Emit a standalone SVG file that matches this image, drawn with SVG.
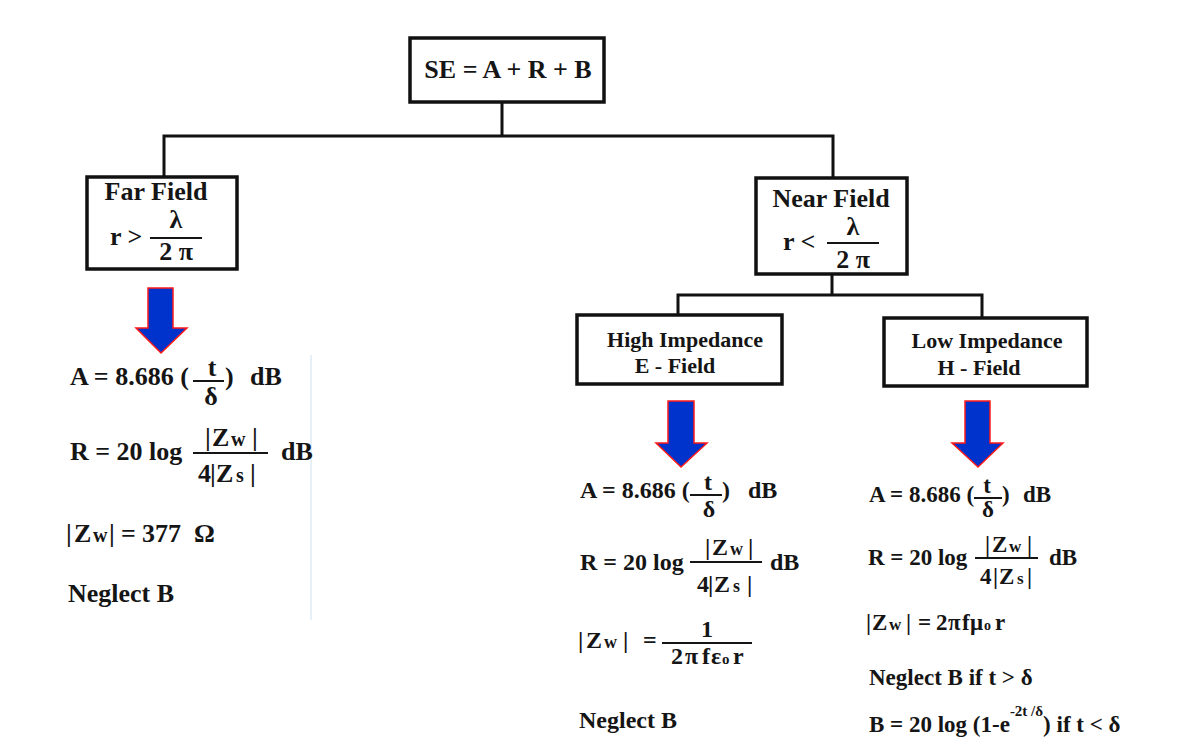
<svg xmlns="http://www.w3.org/2000/svg" width="1204" height="755" viewBox="0 0 1204 755">
<style>
text{font-family:"Liberation Serif","Times New Roman",serif;font-weight:bold;fill:#151515}
.f26{font-size:26px}.f24{font-size:24px}.f23{font-size:23px}.f22{font-size:22px}
.m{text-anchor:middle}
.box{fill:#fff;stroke:#111;stroke-width:3.5}
.conn{fill:none;stroke:#111;stroke-width:3}
.bar{stroke:#151515;stroke-width:2}
.arrow{fill:#0033cc;stroke:#ff1a1a;stroke-width:1.5;stroke-linejoin:miter}
</style>
<rect width="1204" height="755" fill="#fff"/>
<line x1="311" y1="355" x2="311" y2="620" stroke="#cfe0f0" stroke-width="1"/>

<g id="connectors">
<path class="conn" d="M502,102 V136"/>
<path class="conn" d="M164,177 V136 H833 V178"/>
<path class="conn" d="M832,274 V295"/>
<path class="conn" d="M678,315 V295 H982 V318"/>
</g>

<g id="node-se">
<rect class="box" x="410" y="38" width="194" height="64"/>
<text class="f26 m" x="508" y="78">SE = A + R + B</text>
</g>

<g id="node-far">
<rect class="box" x="87" y="177" width="150" height="92"/>
<text class="f26 m" x="156" y="200">Far Field</text>
<text class="f26" x="110" y="245">r &gt;</text>
<text class="f26 m" x="176" y="228">λ</text>
<line class="bar" x1="150" y1="238" x2="202" y2="238" stroke-width="2.5"/>
<text class="f26 m" x="176" y="260">2 π</text>
</g>

<g id="node-near">
<rect class="box" x="756" y="178" width="151" height="96"/>
<text class="f26 m" x="831" y="207">Near Field</text>
<text class="f26" x="783" y="250">r &lt;</text>
<text class="f26 m" x="853" y="235">λ</text>
<line class="bar" x1="827" y1="243" x2="879" y2="243" stroke-width="2.5"/>
<text class="f26 m" x="853" y="268">2 π</text>
</g>

<g id="node-high">
<rect class="box" x="577" y="315" width="205" height="69"/>
<text class="f22 m" x="685" y="347">High Impedance</text>
<text class="f22 m" x="675" y="373">E - Field</text>
</g>

<g id="node-low">
<rect class="box" x="884" y="318" width="203" height="68"/>
<text class="f22 m" x="987" y="348">Low Impedance</text>
<text class="f22 m" x="979" y="375">H - Field</text>
</g>

<g id="arrows">
<polygon class="arrow" points="148,288 173,288 173,328 187,328 161,353 136,328 148,328"/>
<polygon class="arrow" points="668,401 694,401 694,443 707,443 681,467 656,443 668,443"/>
<polygon class="arrow" points="965,401 990,401 990,443 1003,443 978,467 952,443 965,443"/>
</g>

<g id="far-formulas">
<text class="f26" x="70" y="385">A = 8.686 (</text>
<line class="bar" x1="193" y1="381" x2="224" y2="381"/>
<text class="f26 m" x="212" y="376">t</text>
<text class="f26 m" x="211" y="405">δ</text>
<text class="f26" x="225" y="385">)</text>
<text class="f26" x="250" y="385">dB</text>

<text class="f26" x="70" y="460">R = 20 log</text>
<line class="bar" x1="193" y1="453" x2="268" y2="453"/>
<text class="f26" y="446"><tspan x="205">|</tspan><tspan x="212">Z</tspan><tspan x="231" font-size="20">w</tspan><tspan x="252">|</tspan></text>
<text class="f26" y="482"><tspan x="198">4</tspan><tspan x="210">|</tspan><tspan x="216">Z</tspan><tspan x="236" font-size="20">s</tspan><tspan x="250">|</tspan></text>
<text class="f26" x="281" y="460">dB</text>

<text class="f26" y="542"><tspan x="66">|</tspan><tspan x="74">Z</tspan><tspan x="93" font-size="20">w</tspan><tspan x="109">|</tspan><tspan x="121">=</tspan><tspan x="142">377</tspan><tspan x="194">Ω</tspan></text>
<text class="f26" x="68" y="602">Neglect B</text>
</g>

<g id="high-formulas">
<text class="f24" x="580" y="498">A = 8.686 (</text>
<line class="bar" x1="690" y1="495" x2="722" y2="495"/>
<text class="f24 m" x="708" y="490">t</text>
<text class="f24 m" x="709" y="517">δ</text>
<text class="f24" x="722" y="498">)</text>
<text class="f24" x="748" y="498">dB</text>

<text class="f24" x="580" y="570">R = 20 log</text>
<line class="bar" x1="690" y1="562" x2="762" y2="562"/>
<text class="f24" y="555"><tspan x="705">|</tspan><tspan x="712">Z</tspan><tspan x="730" font-size="18">w</tspan><tspan x="748">|</tspan></text>
<text class="f24" y="592"><tspan x="697">4</tspan><tspan x="708">|</tspan><tspan x="714">Z</tspan><tspan x="733" font-size="18">s</tspan><tspan x="747">|</tspan></text>
<text class="f24" x="770" y="570">dB</text>

<text class="f24" y="648"><tspan x="578">|</tspan><tspan x="586">Z</tspan><tspan x="604" font-size="18">w</tspan><tspan x="623">|</tspan><tspan x="643">=</tspan></text>
<line class="bar" x1="662" y1="643" x2="752" y2="643"/>
<text class="f24 m" x="707" y="637">1</text>
<text class="f24" y="664"><tspan x="671">2</tspan><tspan x="685">π</tspan><tspan x="702">f</tspan><tspan x="711">ε</tspan><tspan x="722" font-size="15">o</tspan><tspan x="733">r</tspan></text>

<text class="f24" x="579" y="728">Neglect B</text>
</g>

<g id="low-formulas">
<text class="f23" x="869" y="502">A = 8.686 (</text>
<line class="bar" x1="974" y1="498" x2="1002" y2="498"/>
<text class="f23 m" x="987" y="493">t</text>
<text class="f23 m" x="988" y="517">δ</text>
<text class="f23" x="1002" y="502">)</text>
<text class="f23" x="1023" y="502">dB</text>

<text class="f23" x="868" y="565">R = 20 log</text>
<line class="bar" x1="975" y1="558" x2="1038" y2="558"/>
<text class="f23" y="552"><tspan x="985">|</tspan><tspan x="992">Z</tspan><tspan x="1009" font-size="17">w</tspan><tspan x="1027">|</tspan></text>
<text class="f23" y="584"><tspan x="980">4</tspan><tspan x="993">|</tspan><tspan x="999">Z</tspan><tspan x="1017" font-size="17">s</tspan><tspan x="1027">|</tspan></text>
<text class="f23" x="1049" y="565">dB</text>

<text class="f23" y="630"><tspan x="866">|</tspan><tspan x="872">Z</tspan><tspan x="889" font-size="17">w</tspan><tspan x="906">|</tspan><tspan x="918">=</tspan><tspan x="936">2</tspan><tspan x="948">π</tspan><tspan x="962">f</tspan><tspan x="970">μ</tspan><tspan x="984" font-size="14">o</tspan><tspan x="995">r</tspan></text>
<text class="f23" x="869" y="685">Neglect B if t &gt; δ</text>
<text class="f23" x="869" y="732">B =  20 log (1-e<tspan font-size="15" dy="-16">-2t /δ</tspan><tspan dy="16">) if t &lt; δ</tspan></text>
</g>
</svg>
